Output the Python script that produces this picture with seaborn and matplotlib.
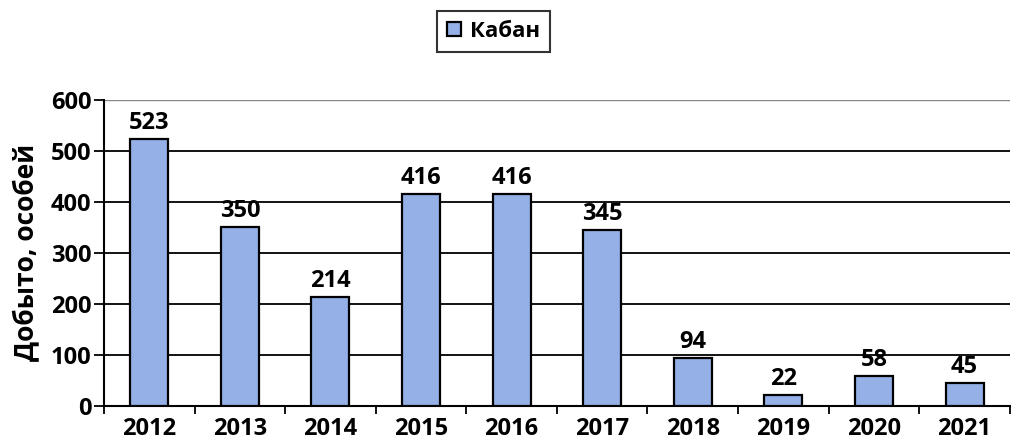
import matplotlib
matplotlib.use("Agg")
import matplotlib.pyplot as plt
import seaborn as sns
import pandas as pd
import numpy as np

# data
years = ['2012', '2013', '2014', '2015', '2016', '2017', '2018', '2019', '2020', '2021']
kaban = [523, 350, 214, 416, 416, 345, 94, 22, 58, 45]

df = pd.DataFrame({'year': years, 'value': kaban, 'series': 'Кабан'})

sns.set_style('white')
plt.rcParams['font.family'] = ['Open Sans', 'DejaVu Sans']
plt.rcParams['font.weight'] = 'bold'
plt.rcParams['text.color'] = 'black'
plt.rcParams['axes.labelcolor'] = 'black'
plt.rcParams['xtick.color'] = 'black'
plt.rcParams['ytick.color'] = 'black'

fig = plt.figure(figsize=(10.19, 4.48), dpi=100)
ax = fig.add_axes([0.102, 0.094, 0.889, 0.683])

sns.barplot(data=df, x='year', y='value', hue='series', palette=['#94b0e6'],
            saturation=1, width=0.42, edgecolor='black', linewidth=1.6, ax=ax, zorder=3)

ax.set_ylim(0, 600)
ax.set_xlim(-0.5, len(years) - 0.5)
ax.set_yticks(range(0, 601, 100))
for y in range(100, 600, 100):
    ax.axhline(y, color='black', lw=1.3, zorder=1)
ax.axhline(600, color='#888888', lw=1.0, zorder=1)

for sp in ['top', 'right']:
    ax.spines[sp].set_visible(False)
for sp in ['left', 'bottom']:
    ax.spines[sp].set_color('black')
    ax.spines[sp].set_linewidth(1.5)

ax.tick_params(axis='y', length=7, width=1.3, color='black', labelcolor='black', labelsize=17, pad=2, left=True)
ax.tick_params(axis='x', which='major', length=0, labelcolor='black', labelsize=17, pad=8)
ax.set_xticks(np.arange(-0.5, len(years), 1.0), minor=True)
ax.tick_params(axis='x', which='minor', length=6, width=1.3, color='black', bottom=True)
for lab in ax.get_xticklabels() + ax.get_yticklabels():
    lab.set_fontweight('bold')

ax.set_xlabel('')
ax.set_ylabel('Добыто, особей', fontsize=19, fontweight='bold', color='black', labelpad=8)

for i, v in enumerate(kaban):
    ax.text(i, v + 8, str(v), ha='center', va='bottom', fontsize=17, fontweight='bold',
            color='black', zorder=4)

leg = ax.legend(loc='center', bbox_to_anchor=(0.43, 1.225), frameon=True, fancybox=False,
                edgecolor='black', handlelength=0.6, handleheight=0.6,
                borderpad=0.45, handletextpad=0.4, prop={'weight': 'bold', 'size': 16})
leg.get_frame().set_linewidth(1.5)
for t in leg.get_texts():
    t.set_color('black')

plt.savefig('out.png', dpi=100)
